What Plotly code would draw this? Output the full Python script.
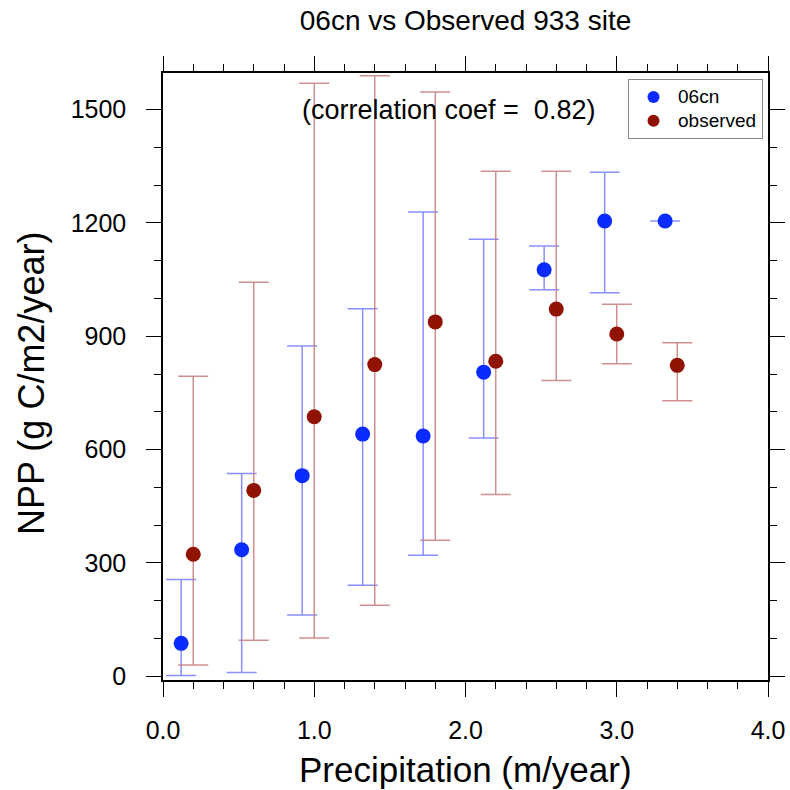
import plotly.graph_objects as go

# ---- data ----
precip_06cn = [0.12, 0.52, 0.92, 1.32, 1.72, 2.12, 2.52, 2.92, 3.32]
npp_06cn = [87, 335, 531, 641, 636, 805, 1076, 1205, 1205]
npp_06cn_hi = [256, 537, 874, 973, 1229, 1157, 1139, 1334, 1205]
npp_06cn_lo = [2, 10, 162, 241, 320, 631, 1023, 1015, 1205]

precip_obs = [0.2, 0.6, 1.0, 1.4, 1.8, 2.2, 2.6, 3.0, 3.4]
npp_obs = [323, 492, 687, 825, 938, 834, 972, 906, 823]
npp_obs_hi = [794, 1043, 1570, 1590, 1547, 1337, 1337, 985, 883]
npp_obs_lo = [30, 95, 101, 188, 360, 481, 783, 827, 729]

x_ticks = [0, 1, 2, 3, 4]
x_ticklabels = ["0.0", "1.0", "2.0", "3.0", "4.0"]
y_ticks = [0, 300, 600, 900, 1200, 1500]

series_names = ["06cn", "observed"]
title_text = "06cn vs Observed 933 site"
corr_text = "(correlation coef =  0.82)"
FONT = "Liberation Sans, Arial, Helvetica, sans-serif"


def legend_name(s):
    return '<span style="font-size:19px">' + s + "</span>"


fig = go.Figure()

fig.add_trace(go.Scatter(
    x=precip_06cn, y=npp_06cn, mode="markers", name=legend_name(series_names[0]),
    marker=dict(color="#0a2bff", size=15),
    error_y=dict(type="data", symmetric=False,
                 array=[h - v for h, v in zip(npp_06cn_hi, npp_06cn)],
                 arrayminus=[v - l for v, l in zip(npp_06cn, npp_06cn_lo)],
                 color="rgba(115,125,255,0.85)", thickness=1.5, width=15),
))
fig.add_trace(go.Scatter(
    x=precip_obs, y=npp_obs, mode="markers", name=legend_name(series_names[1]),
    marker=dict(color="#8f1300", size=15),
    error_y=dict(type="data", symmetric=False,
                 array=[h - v for h, v in zip(npp_obs_hi, npp_obs)],
                 arrayminus=[v - l for v, l in zip(npp_obs, npp_obs_lo)],
                 color="rgba(200,125,125,0.85)", thickness=1.5, width=15),
))

axis_common = dict(
    showline=True, linecolor="black", linewidth=1.5, mirror="allticks",
    ticks="outside", ticklen=15, tickwidth=1.3, tickcolor="black",
    showgrid=False, zeroline=False, automargin=False,
    tickfont=dict(family=FONT, size=25, color="black"),
)

fig.update_layout(
    width=790, height=790,
    paper_bgcolor="white", plot_bgcolor="white",
    margin=dict(l=163, r=22, t=73, b=110, autoexpand=False),
    showlegend=True,
    legend=dict(x=(628 - 163) / 605, y=(680 - 79) / 607, xanchor="left", yanchor="top",
                bordercolor="#888888", borderwidth=1, bgcolor="white",
                font=dict(family=FONT, size=16, color="black"),
                itemsizing="constant", itemwidth=39, tracegroupgap=0),
    title=dict(text=title_text, x=0.5, xref="paper", y=1 - 20 / 790,
               yref="container", xanchor="center", yanchor="middle",
               font=dict(family=FONT, size=28, color="black")),
    xaxis=dict(range=[0, 4], tickvals=x_ticks, ticktext=x_ticklabels,
               minor=dict(dtick=0.2, ticks="outside", ticklen=7, tickcolor="black",
                          showgrid=False),
               ticklabelstandoff=12, **axis_common),
    yaxis=dict(range=[-10, 1597], tickvals=y_ticks,
               minor=dict(dtick=100, tick0=0, ticks="outside", ticklen=7, tickcolor="black",
                          showgrid=False),
               ticklabelstandoff=15, **axis_common),
    annotations=[
        dict(text=corr_text, xref="paper", yref="paper", x=(448 - 163) / 605,
             y=(680 - 110) / 607, xanchor="center", yanchor="middle", showarrow=False,
             font=dict(family=FONT, size=27, color="black")),
        dict(text="Precipitation (m/year)", xref="paper", yref="paper", x=0.5,
             y=(680 - 769) / 607, xanchor="center", yanchor="middle", showarrow=False,
             font=dict(family=FONT, size=35, color="black")),
        dict(text="NPP (g C/m2/year)", xref="paper", yref="paper",
             x=(31 - 163) / 605, y=(680 - 384) / 607, xanchor="center", yanchor="middle",
             textangle=-90, showarrow=False,
             font=dict(family=FONT, size=36, color="black")),
    ],
)

fig.write_html("out.html", config={"displayModeBar": False},
               post_script="document.body.style.margin='0';")
